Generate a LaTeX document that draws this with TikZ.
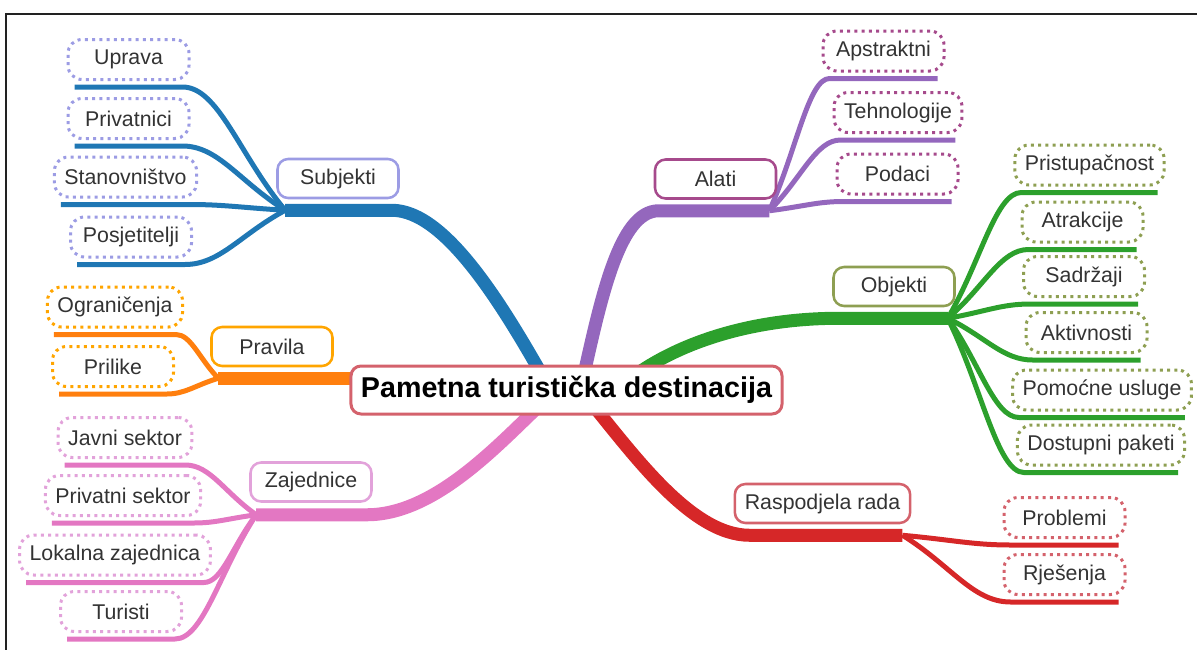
\documentclass[tikz,border=0pt]{standalone}
\usepackage{fontspec}
\setmainfont{Liberation Sans}
\usetikzlibrary{calc}
\pgfdeclarelayer{bg}
\pgfsetlayers{bg,main}
\definecolor{cBlue}{HTML}{1F77B4}
\definecolor{cPurple}{HTML}{9467BD}
\definecolor{cGreen}{HTML}{2CA02C}
\definecolor{cRed}{HTML}{D62728}
\definecolor{cOrange}{HTML}{FF7F0E}
\definecolor{cPink}{HTML}{E377C2}
\definecolor{bSubj}{HTML}{9C9CE4}
\definecolor{bAlati}{HTML}{A64A8C}
\definecolor{bObj}{HTML}{8E9F52}
\definecolor{bRasp}{HTML}{D4626C}
\definecolor{bPrav}{HTML}{FFA500}
\definecolor{bZaj}{HTML}{E2A2DA}
\definecolor{txt}{HTML}{333333}
\definecolor{frame}{HTML}{222222}
\tikzset{
  mainline/.style={line width=9.75pt},
  subline/.style={line width=3.75pt},
  topic/.style={draw, line width=1.9pt, rounded corners=8pt, fill=white,
    minimum width=90.75pt, minimum height=29.25pt, inner xsep=7.5pt, inner ysep=0pt,
    text=txt, font=\fontsize{16}{19}\selectfont},
  leaf/.style={draw, line width=2.25pt, dash pattern=on 2.25pt off 3.2pt,
    rounded corners=10.5pt, fill=white,
    minimum width=90.75pt, minimum height=30pt, inner xsep=7.5pt, inner ysep=0pt,
    text=txt, font=\fontsize{16}{19}\selectfont},
  root/.style={draw=bRasp, line width=2.25pt, rounded corners=7.5pt, fill=white,
    minimum height=36pt, inner xsep=7.5pt, inner ysep=0pt, text=black,
    font=\fontsize{21.5}{25}\selectfont\bfseries},
  frameline/.style={line width=1.1pt, draw=frame}
}
% left-side leaf: underline then curve to hub
\newcommand\leftsub[3]{%
  \coordinate (#2L) at ([shift={(8,6)}]#2.south west);
  \coordinate (#2R) at ([shift={(-8,6)}]#2.south east);
  \draw[subline,#3] (#2L) -- (#2R) .. controls ($(#2R)!0.35!(#1|-#2R)$) and ($(#1)!0.45!(#2R)$) .. (#1);
}
% right-side leaf
\newcommand\rightsub[3]{%
  \coordinate (#2L) at ([shift={(8,6)}]#2.south west);
  \coordinate (#2R) at ([shift={(-8,6)}]#2.south east);
  \draw[subline,#3] (#2R) -- (#2L) .. controls ($(#2L)!0.35!(#1|-#2L)$) and ($(#1)!0.45!(#2L)$) .. (#1);
}
\begin{document}
\begin{tikzpicture}[x=0.75pt,y=-0.75pt]
\useasboundingbox (0,0) rectangle (1197,650);
\draw[frameline] (6,650) -- (6,14) -- (1197,14);

% root
\node[root] (c) at (566.5,390) {Pametna turistička destinacija};

% topics
\node[topic,draw=bSubj]  (subj)  at (338,178.5)   {Subjekti};
\node[topic,draw=bAlati] (alati) at (715.5,179)   {Alati};
\node[topic,draw=bObj]   (obj)   at (894,286.5)   {Objekti};
\node[topic,draw=bRasp]  (rasp)  at (822.5,503.5) {Raspodjela rada};
\node[topic,draw=bPrav]  (prav)  at (272,346.5)   {Pravila};
\node[topic,draw=bZaj]   (zaj)   at (311,482)     {Zajednice};

% leaves: Subjekti
\node[leaf,draw=bSubj] (upr) at (128.5,59.5) {Uprava};
\node[leaf,draw=bSubj] (pri) at (128.5,118.5) {Privatnici};
\node[leaf,draw=bSubj] (sta) at (125.5,177) {Stanovništvo};
\node[leaf,draw=bSubj] (pos) at (131,237) {Posjetitelji};
% leaves: Alati
\node[leaf,draw=bAlati] (aps) at (883.5,51) {Apstraktni};
\node[leaf,draw=bAlati] (teh) at (898,112.5) {Tehnologije};
\node[leaf,draw=bAlati] (pod) at (897.5,174) {Podaci};
% leaves: Objekti
\node[leaf,draw=bObj] (prs) at (1089.5,165) {Pristupačnost};
\node[leaf,draw=bObj] (atr) at (1082.5,222) {Atrakcije};
\node[leaf,draw=bObj] (sad) at (1084,276.5) {Sadržaji};
\node[leaf,draw=bObj] (akt) at (1086.5,332.5) {Aktivnosti};
\node[leaf,draw=bObj] (pom) at (1102,390) {Pomoćne usluge};
\node[leaf,draw=bObj] (dos) at (1101,445) {Dostupni paketi};
% leaves: Raspodjela rada
\node[leaf,draw=bRasp] (pro) at (1064.5,517.5) {Problemi};
\node[leaf,draw=bRasp] (rje) at (1064.5,574.5) {Rješenja};
% leaves: Pravila
\node[leaf,draw=bPrav] (ogr) at (115,307) {Ograničenja};
\node[leaf,draw=bPrav] (pli) at (113,366.5) {Prilike};
% leaves: Zajednice
\node[leaf,draw=bZaj] (jav) at (125,437.5) {Javni sektor};
\node[leaf,draw=bZaj] (pse) at (123,495.5) {Privatni sektor};
\node[leaf,draw=bZaj] (lok) at (115,555) {Lokalna zajednica};
\node[leaf,draw=bZaj] (tur) at (121,611.5) {Turisti};

% hubs and branch starts
\coordinate (subjH)  at ([shift={(9,11)}]subj.south west);
\coordinate (subjT)  at ([shift={(-8,11)}]subj.south east);
\coordinate (alatiH) at ([shift={(-8,11)}]alati.south east);
\coordinate (alatiT) at ([shift={(5,11)}]alati.south west);
\coordinate (objH)   at ([shift={(-8,11)}]obj.south east);
\coordinate (objT)   at ([shift={(7,11)}]obj.south west);
\coordinate (raspH)  at ([shift={(-9,11)}]rasp.south east);
\coordinate (raspT)  at ([shift={(16,11)}]rasp.south west);
\coordinate (pravH)  at ([shift={(8,11)}]prav.south west);
\coordinate (zajH)   at ([shift={(7,12)}]zaj.south west);
\coordinate (zajT)   at ([shift={(-6,12)}]zaj.south east);

\begin{pgfonlayer}{bg}
  % main branches
  \draw[mainline,cBlue] (subjH) -- (subjT) .. controls +(55,0) and +(-45,-80) .. ([shift={(-16,0)}]c.center);
  \draw[mainline,cPurple] (alatiH) -- (alatiT) .. controls +(-40,0) and +(20,-90) .. ([shift={(14,0)}]c.center);
  \draw[mainline,cGreen] (objH) -- (objT) .. controls +(-100,0) and +(44,-40) .. ([shift={(50,0)}]c.center);
  \draw[mainline,cRed] (raspH) -- (raspT) .. controls +(-60,0) and +(46,55) .. ([shift={(18,5)}]c.center);
  \draw[mainline,cOrange] (pravH) -- (pravH -| c.center);
  \draw[mainline,cPink] (zajH) -- (zajT) .. controls +(75,0) and +(-44,38) .. ([shift={(-12,2)}]c.center);
  % sub branches
  \leftsub{subjH}{upr}{cBlue}
  \leftsub{subjH}{pri}{cBlue}
  \leftsub{subjH}{sta}{cBlue}
  \leftsub{subjH}{pos}{cBlue}
  \rightsub{alatiH}{aps}{cPurple}
  \rightsub{alatiH}{teh}{cPurple}
  \rightsub{alatiH}{pod}{cPurple}
  \rightsub{objH}{prs}{cGreen}
  \rightsub{objH}{atr}{cGreen}
  \rightsub{objH}{sad}{cGreen}
  \rightsub{objH}{akt}{cGreen}
  \rightsub{objH}{pom}{cGreen}
  \rightsub{objH}{dos}{cGreen}
  \rightsub{raspH}{pro}{cRed}
  \rightsub{raspH}{rje}{cRed}
  \leftsub{pravH}{ogr}{cOrange}
  \leftsub{pravH}{pli}{cOrange}
  \leftsub{zajH}{jav}{cPink}
  \leftsub{zajH}{pse}{cPink}
  \leftsub{zajH}{lok}{cPink}
  \leftsub{zajH}{tur}{cPink}
\end{pgfonlayer}
\end{tikzpicture}
\end{document}
